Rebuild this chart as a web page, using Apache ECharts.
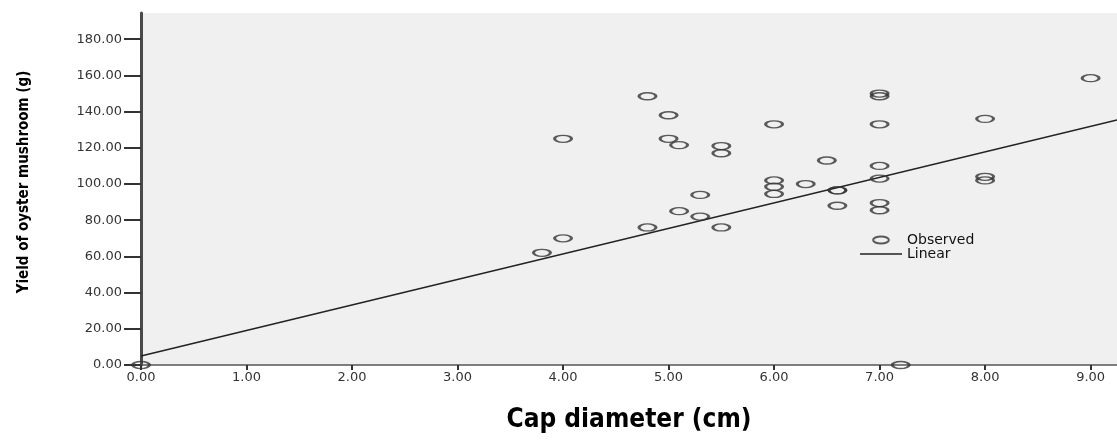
<!DOCTYPE html>
<html><head><meta charset="utf-8">
<script src="https://cdn.jsdelivr.net/npm/echarts@6/dist/echarts.min.js"></script>
<style>html,body{margin:0;padding:0;background:#fff}#c{width:1117px;height:442px}</style>
</head><body><div id="c"></div>
<script>
// Observed points: cap diameter (cm) and yield (g)
const capDiameter = [3.8, 4.0, 4.0, 4.8, 4.8, 5.0, 5.0, 5.1, 5.1, 5.3, 5.3, 5.5, 5.5, 5.5,
  6.0, 6.0, 6.0, 6.0, 6.3, 6.5, 6.6, 6.6, 6.6, 7.0, 7.0, 7.0, 7.0, 7.0, 7.0, 7.0,
  8.0, 8.0, 8.0, 9.0, 0.0, 7.2];
const yieldG = [62, 70, 125, 148.5, 76, 138, 125, 121.5, 85, 94, 82, 121, 117, 76,
  133, 102, 98.5, 94.5, 100, 113, 96.5, 96.5, 88, 150, 148.5, 133, 110, 103, 89.5, 85.5,
  136, 104, 102, 158.5, 0, 0];
// Linear fit line end points
const fitX = [0, 9.25];
const fitY = [5.0, 135.4];
const xTicks = [0, 1, 2, 3, 4, 5, 6, 7, 8, 9];
const yTicks = [0, 20, 40, 60, 80, 100, 120, 140, 160, 180];
const seriesNames = ['Observed', 'Linear'];
const xTitle = 'Cap diameter (cm)';
const yTitle = 'Yield of oyster mushroom (g)';

const ellipse = 'path://M0,4 A9,4 0 1,0 18,4 A9,4 0 1,0 0,4 Z';
const legendEllipse = 'path://M0,4 A9,4 0 1,0 18,4 A9,4 0 1,0 0,4 Z';
const legendLine = 'path://M0,0 L42,0 L42,1.5 L0,1.5 Z';
const tickFont = {fontFamily: 'DejaVu Sans', fontSize: 13, color: '#333'};
const titleFont = {fontFamily: '"Liberation Sans Narrow", "DejaVu Sans Condensed", sans-serif', fontWeight: 'bold', color: '#000'};

const chart = echarts.init(document.getElementById('c'), null, {renderer: 'canvas'});
chart.setOption({
  animation: false,
  backgroundColor: '#fff',
  grid: {left: 141, right: 0, top: 13, bottom: 77, show: true, backgroundColor: '#f0f0f0', borderWidth: 0, containLabel: false, outerBoundsMode: 'none'},
  legend: {
    orient: 'vertical', left: 855, top: 228, itemWidth: 42, itemHeight: 7, itemGap: 0,
    textStyle: {fontFamily: 'DejaVu Sans', fontSize: 14, lineHeight: 14, color: '#111'},
    data: [
      {name: seriesNames[0], icon: legendEllipse},
      {name: seriesNames[1], icon: legendLine, itemStyle: {color: '#222', borderWidth: 0}}
    ]
  },
  xAxis: {
    type: 'value', min: 0, max: 9.25,
    name: xTitle, nameLocation: 'middle', nameGap: 42,
    nameTextStyle: Object.assign({fontSize: 26}, titleFont),
    axisLine: {show: true, onZero: false, lineStyle: {color: '#555', width: 1.5}},
    axisTick: {show: true, length: 5, customValues: xTicks, lineStyle: {color: '#333', width: 2}},
    axisLabel: Object.assign({customValues: xTicks, margin: 6, formatter: v => v.toFixed(2)}, tickFont),
    splitLine: {show: false}
  },
  yAxis: {
    type: 'value', min: 0, max: 194.5,
    name: yTitle, nameLocation: 'middle', nameGap: 109, nameRotate: 90,
    nameTextStyle: Object.assign({fontSize: 15, padding: [0, 0, 0, 14]}, titleFont),
    axisLine: {show: true, onZero: false, lineStyle: {color: '#4a4a4a', width: 3}},
    axisTick: {show: true, length: 17, customValues: yTicks, lineStyle: {color: '#333', width: 2}},
    axisLabel: Object.assign({customValues: yTicks, margin: 19, formatter: v => v.toFixed(2)}, tickFont),
    splitLine: {show: false}
  },
  series: [
    {
      name: seriesNames[0], type: 'scatter',
      data: capDiameter.map((x, i) => [x, yieldG[i]]),
      symbol: ellipse, symbolSize: [17, 7],
      itemStyle: {color: 'rgba(0,0,0,0)', borderColor: '#333', borderWidth: 2},
      emphasis: {disabled: true}, z: 3
    },
    {
      name: seriesNames[1], type: 'line',
      data: fitX.map((x, i) => [x, fitY[i]]),
      symbol: 'none', lineStyle: {color: '#222', width: 1.5},
      itemStyle: {color: '#222'},
      emphasis: {disabled: true}, z: 2
    }
  ]
});
</script>
</body></html>
